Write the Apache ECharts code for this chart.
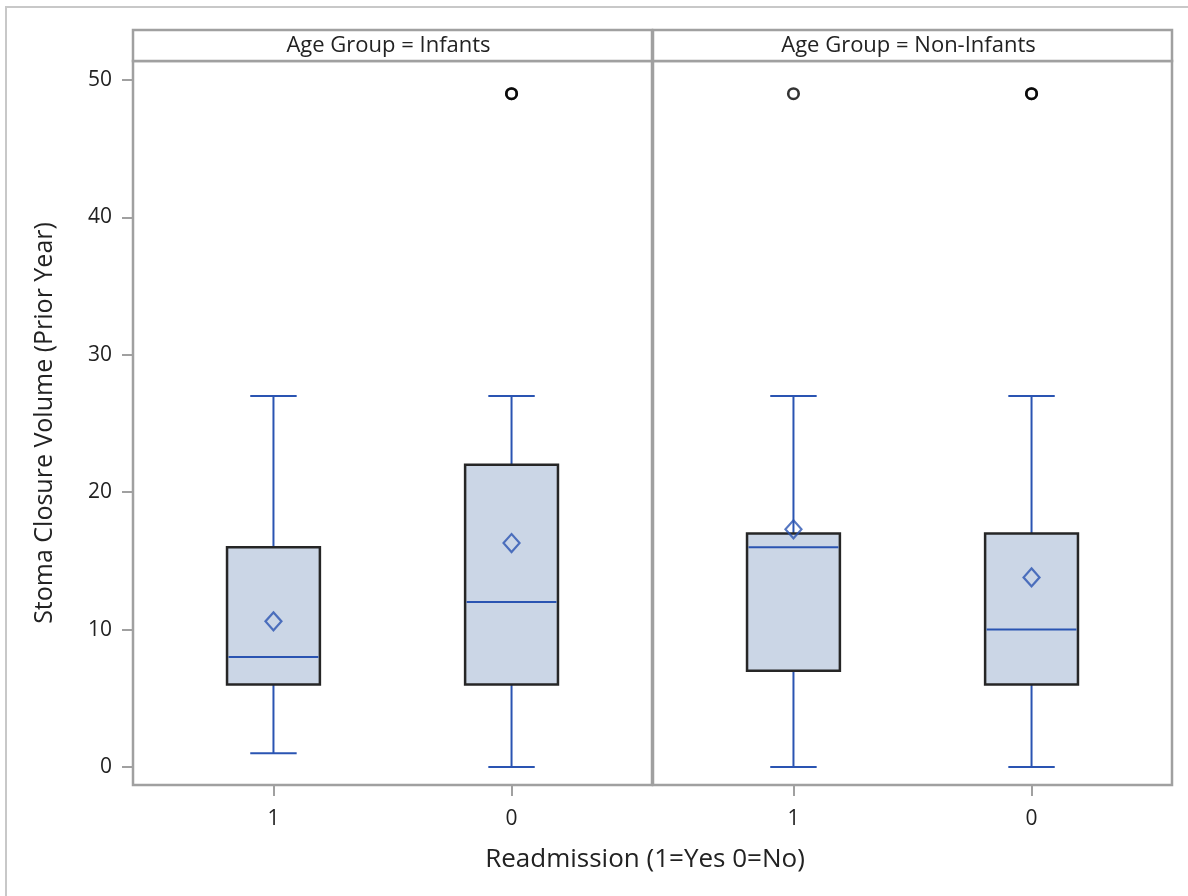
<!DOCTYPE html>
<html>
<head>
<meta charset="utf-8">
<title>Stoma Closure Volume by Readmission and Age Group</title>
<script src="https://cdn.jsdelivr.net/npm/echarts@6/dist/echarts.min.js"></script>
<style>
  html, body { margin: 0; padding: 0; background: #fff; }
  #chart { width: 1188px; height: 896px; }
</style>
</head>
<body>
<div id="chart"></div>
<script>
// Readmission categories shown on each panel's x axis
const categories = ['1', '0'];
// Age group panels
const panels = ['Infants', 'Non-Infants'];

// Box statistics per panel, one entry per readmission category
const whiskerLow  = [[1, 0],   [0, 0]];
const q1          = [[6, 6],   [7, 6]];
const median      = [[8, 12],  [16, 10]];
const q3          = [[16, 22], [17, 17]];
const whiskerHigh = [[27, 27], [27, 27]];
const means       = [[10.6, 16.3], [17.3, 13.8]];
const outliers    = [[[], [49, 49]], [[49], [49, 49]]];

// Y axis tick values
const yTicks = [0, 10, 20, 30, 40, 50];

const BLUE = '#2a54b2';
const BOX_FILL = '#cbd6e6';
const BOX_EDGE = '#262626';
const FRAME = '#a0a0a0';
const TEXT = '#222222';
const FONT = '"Open Sans", "Liberation Sans", sans-serif';

const BOX_W = 0.39;   // box width in category units
const CAP_W = 0.195;  // whisker cap width in category units

function renderBox(params, api) {
  const x = api.value(0);
  const lo = api.coord([x, api.value(1)]);
  const b1 = api.coord([x, api.value(2)]);
  const md = api.coord([x, api.value(3)]);
  const b3 = api.coord([x, api.value(4)]);
  const hi = api.coord([x, api.value(5)]);
  const half = api.size([BOX_W, 0])[0] / 2;
  const cap = api.size([CAP_W, 0])[0] / 2;
  const cx = lo[0];
  const line = (x1, y1, x2, y2) => ({
    type: 'line',
    shape: { x1, y1, x2, y2 },
    style: { stroke: BLUE, lineWidth: 2 }
  });
  return {
    type: 'group',
    children: [
      line(cx, b1[1], cx, lo[1]),
      line(cx - cap, lo[1], cx + cap, lo[1]),
      line(cx, b3[1], cx, hi[1]),
      line(cx - cap, hi[1], cx + cap, hi[1]),
      {
        type: 'rect',
        shape: { x: cx - half, y: b3[1], width: 2 * half, height: b1[1] - b3[1] },
        style: { fill: BOX_FILL, stroke: BOX_EDGE, lineWidth: 2.5 }
      },
      line(cx - half + 1.5, md[1], cx + half - 1.5, md[1])
    ]
  };
}

const grids = [
  { left: 133, right: 536, top: 61, bottom: 111 },
  { left: 653, right: 16, top: 61, bottom: 111 }
].map(g => Object.assign(g, { show: true, borderColor: FRAME, borderWidth: 2.5, backgroundColor: '#fff' }));

const xAxes = panels.map((p, i) => ({
  type: 'value',
  gridIndex: i,
  min: -0.59,
  max: 1.59,
  axisLine: { show: false, onZero: false },
  splitLine: { show: false },
  axisTick: { show: true, inside: false, customValues: [0, 1], length: 11, lineStyle: { color: FRAME, width: 2 } },
  axisLabel: {
    customValues: [0, 1],
    formatter: v => categories[Math.round(v)],
    color: TEXT, fontFamily: FONT, fontSize: 21, margin: 24
  }
}));

const yAxes = panels.map((p, i) => ({
  type: 'value',
  gridIndex: i,
  min: -1.31,
  max: 51.38,
  axisLine: { show: false, onZero: false },
  splitLine: { show: false },
  axisTick: i === 0
    ? { show: true, inside: false, customValues: yTicks, length: 11, lineStyle: { color: FRAME, width: 2 } }
    : { show: false },
  axisLabel: i === 0
    ? { customValues: yTicks, color: TEXT, fontFamily: FONT, fontSize: 21, margin: 21 }
    : { show: false },
  name: i === 0 ? 'Stoma Closure Volume (Prior Year)' : '',
  nameLocation: 'middle',
  nameGap: 76,
  nameTextStyle: { color: TEXT, fontFamily: FONT, fontSize: 25 }
}));

const series = [];
panels.forEach((p, i) => {
  series.push({
    type: 'custom',
    xAxisIndex: i,
    yAxisIndex: i,
    renderItem: renderBox,
    encode: { x: 0, y: [1, 2, 3, 4, 5] },
    data: categories.map((c, k) => [k, whiskerLow[i][k], q1[i][k], median[i][k], q3[i][k], whiskerHigh[i][k]]),
    z: 2
  });
  series.push({
    type: 'scatter',
    xAxisIndex: i,
    yAxisIndex: i,
    symbol: 'diamond',
    symbolSize: [16, 18],
    itemStyle: { color: 'rgba(0,0,0,0)', borderColor: BLUE, borderWidth: 2.2 },
    data: categories.map((c, k) => [k, means[i][k]]),
    z: 3
  });
  const pts = [];
  categories.forEach((c, k) => outliers[i][k].forEach(v => pts.push([k, v])));
  series.push({
    type: 'scatter',
    xAxisIndex: i,
    yAxisIndex: i,
    symbol: 'circle',
    symbolSize: 10.5,
    itemStyle: { color: 'rgba(0,0,0,0)', borderColor: '#000', borderWidth: 2.6 },
    data: pts,
    z: 3
  });
});

// Panel header strips and overall frame
const graphics = [
  {
    type: 'rect',
    shape: { x: 6, y: 7, width: 1200, height: 900 },
    style: { fill: 'none', stroke: '#c8c8c8', lineWidth: 2 },
    silent: true
  }
];
const headerX = [[133, 652], [653, 1172]];
panels.forEach((p, i) => {
  const [x0, x1] = headerX[i];
  graphics.push({
    type: 'rect',
    shape: { x: x0, y: 30, width: x1 - x0, height: 31 },
    style: { fill: '#fff', stroke: FRAME, lineWidth: 2.5 },
    silent: true
  });
  graphics.push({
    type: 'text',
    x: (x0 + x1) / 2 - 4,
    y: 45.5,
    style: {
      text: 'Age Group = ' + p,
      fill: TEXT,
      font: '22px ' + FONT,
      align: 'center',
      verticalAlign: 'middle'
    },
    silent: true
  });
});
graphics.push({
  type: 'text',
  x: 645,
  y: 860,
  style: {
    text: 'Readmission (1=Yes 0=No)',
    fill: TEXT,
    font: '26px ' + FONT,
    align: 'center',
    verticalAlign: 'middle'
  },
  silent: true
});

const chart = echarts.init(document.getElementById('chart'), null, { renderer: 'canvas' });
chart.setOption({
  backgroundColor: '#fff',
  animation: false,
  grid: grids,
  xAxis: xAxes,
  yAxis: yAxes,
  series: series,
  graphic: graphics
});
</script>
</body>
</html>
